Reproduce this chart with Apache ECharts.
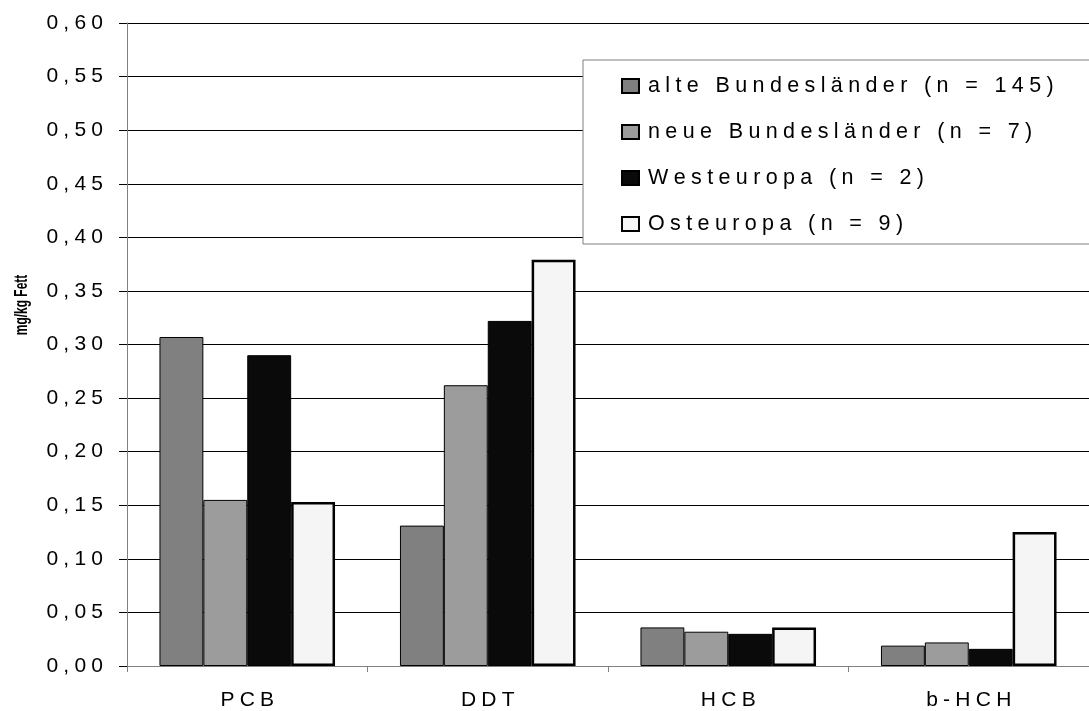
<!DOCTYPE html>
<html>
<head>
<meta charset="utf-8">
<script src="https://cdn.jsdelivr.net/npm/echarts@6/dist/echarts.min.js"></script>
<style>html,body{margin:0;padding:0;background:#fff}#c{width:1089px;height:711px}</style>
</head>
<body>
<div id="c"></div>
<script>
const categories = ['PCB', 'DDT', 'HCB', 'b-HCH'];
const seriesNames = ['alte Bundesländer (n = 145)', 'neue Bundesländer (n = 7)', 'Westeuropa (n = 2)', 'Osteuropa (n = 9)'];
const alteBundeslaender = [0.307, 0.131, 0.036, 0.019];
const neueBundeslaender = [0.155, 0.262, 0.032, 0.022];
const westeuropa = [0.290, 0.322, 0.030, 0.016];
const osteuropa = [0.153, 0.379, 0.036, 0.125];
const yAxisName = 'mg/kg Fett';

const FONT = '"Liberation Sans", Arial, sans-serif';
function spaced(s, sp) { return Array.from(s).join(sp); }

const chart = echarts.init(document.getElementById('c'), null, { renderer: 'canvas' });

const fills = ['#808080', '#9c9c9c', '#0a0a0a', '#f5f5f5'];
const borders = [1, 1, 1, 2.5];
const dataSets = [alteBundeslaender, neueBundeslaender, westeuropa, osteuropa];

const series = seriesNames.map((name, i) => ({
  name: name,
  type: 'bar',
  data: dataSets[i],
  barGap: '0%',
  barCategoryGap: '27%',
  itemStyle: { color: fills[i], borderColor: '#000', borderWidth: borders[i] },
  emphasis: { disabled: true },
  animation: false
}));

chart.setOption({
  animation: false,
  backgroundColor: '#fff',
  grid: { left: 127, top: 23, width: 971, height: 648, containLabel: false },
  legend: {
    orient: 'vertical',
    left: 583,
    top: 60,
    data: seriesNames.map(n => ({ name: n, icon: 'rect' })),
    formatter: n => spaced(n, '\u2005'),
    backgroundColor: '#fff',
    borderColor: '#808080',
    borderWidth: 1,
    padding: [14, 40, 8, 38],
    itemGap: 22,
    itemWidth: 17,
    itemHeight: 14,
    selectedMode: false,
    textStyle: { fontFamily: FONT, fontSize: 21.5, color: '#000', lineHeight: 24, padding: [0, 0, 0, 4] }
  },
  xAxis: {
    type: 'category',
    data: categories,
    axisLine: { show: true, lineStyle: { color: '#808080', width: 1 } },
    axisTick: { show: true, alignWithLabel: false, length: 6, inside: false, lineStyle: { color: '#808080' } },
    axisLabel: { fontFamily: FONT, fontSize: 21, color: '#000', margin: 24, formatter: v => spaced(v, '\u2005') },
    splitLine: { show: false }
  },
  yAxis: {
    type: 'value',
    min: 0,
    max: 0.6,
    interval: 0.05,
    axisLine: { show: true, lineStyle: { color: '#808080', width: 1 } },
    axisTick: { show: true, length: 8, inside: false, lineStyle: { color: '#000' } },
    axisLabel: {
      fontFamily: FONT, fontSize: 21, color: '#000', margin: 24,
      formatter: v => spaced(v.toFixed(2).replace('.', ','), '\u2005')
    },
    splitLine: { show: true, lineStyle: { color: '#000', width: 1 } }
  },
  graphic: [{
    type: 'text',
    x: 22,
    y: 305,
    rotation: Math.PI / 2,
    scaleX: 0.63,
    style: {
      text: yAxisName,
      fontFamily: FONT,
      fontSize: 19,
      fontWeight: 'bold',
      fill: '#000',
      align: 'center',
      verticalAlign: 'middle'
    }
  }],
  series: series
});
</script>
</body>
</html>
